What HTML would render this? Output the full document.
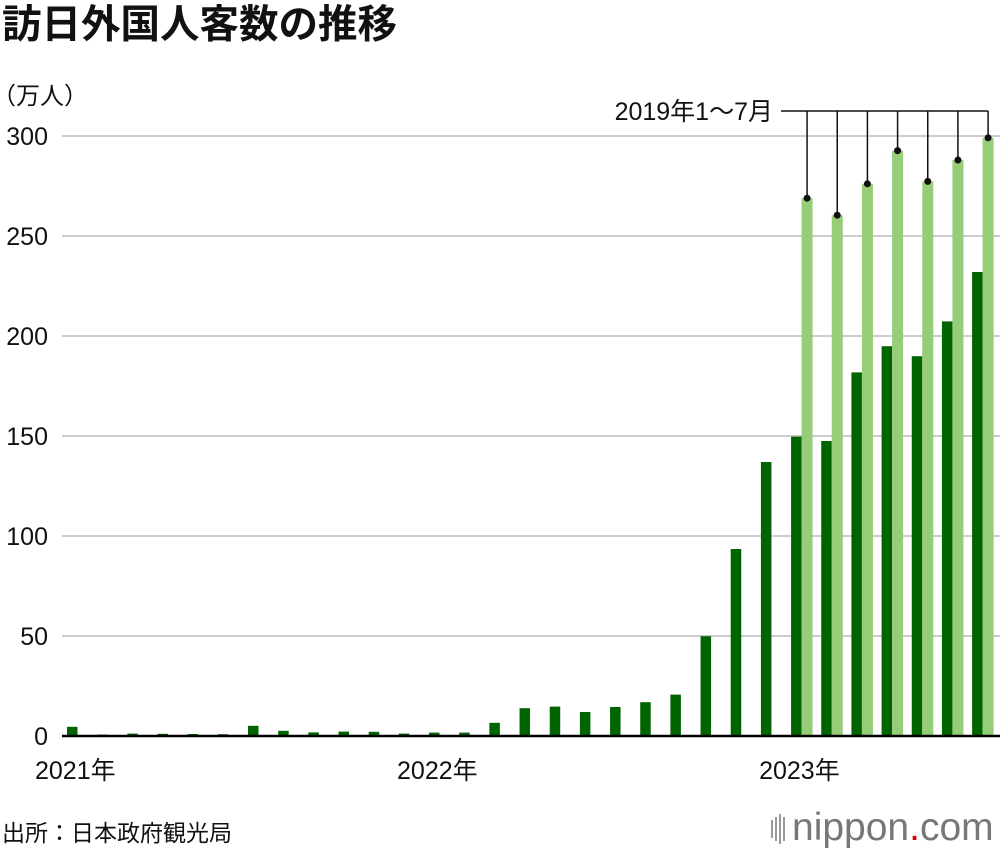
<!DOCTYPE html>
<html><head><meta charset="utf-8">
<style>
body{margin:0;background:#fff;width:1000px;height:850px;overflow:hidden;font-family:"Liberation Sans","Noto Sans CJK JP",sans-serif;}
svg text{font-family:"Liberation Sans","Noto Sans CJK JP",sans-serif;}
</style></head><body>
<svg id="chart" width="1000" height="850">
<text x="2" y="38" font-size="39.5" font-weight="bold" fill="#111">訪日外国人客数の推移</text>
<text x="-8" y="104" font-size="24" fill="#111">（万人）</text>
<text x="2" y="841" font-size="23" fill="#111">出所：日本政府観光局</text>
<g>
<rect x="771" y="820" width="2" height="18" fill="#999"/><rect x="775" y="817" width="2" height="24" fill="#999"/><rect x="779" y="814" width="2" height="30" fill="#999"/><rect x="783" y="817" width="2" height="24" fill="#999"/>
<text x="792" y="840" font-size="39" fill="#777">nippon<tspan fill="#d00">.</tspan>com</text>
</g>
<g id="grid"></g><g id="bars"></g><g id="ann"></g>
</svg>
<script>
const months=31;
const current=[4.6,0.7,1.2,1.1,1.0,0.9,5.1,2.6,1.8,2.2,2.1,1.2,1.7,1.7,6.6,13.9,14.7,12.0,14.5,16.9,20.7,49.9,93.5,137.0,149.7,147.5,181.8,194.9,189.9,207.3,232.0];
const base2019=[268.9,260.4,276.1,292.7,277.3,288.0,299.1];
const yTicks=[0,50,100,150,200,250,300];
const xLabels=[{i:0,t:"2021年"},{i:12,t:"2022年"},{i:24,t:"2023年"}];
const NS="http://www.w3.org/2000/svg";
const y=v=>736-v*2;
const x=i=>67+i*30.17;
function mk(tag,attrs,parent){const e=document.createElementNS(NS,tag);for(const k in attrs)e.setAttribute(k,attrs[k]);document.getElementById(parent).appendChild(e);return e;}
yTicks.forEach(v=>{
 if(v>0){const l=mk('line',{x1:62,x2:1000,y1:y(v),y2:y(v),stroke:'#ccc','stroke-width':2},'grid');
 
 }
 const t=mk('text',{x:48,y:y(v)+9,'font-size':25,'text-anchor':'end',fill:'#111'},'grid');t.textContent=v;
 
 
});
xLabels.forEach(o=>{const t=mk('text',{x:x(o.i)-32,y:779,'font-size':25,fill:'#111'},'grid');t.textContent=o.t;
 
 });
current.forEach((v,i)=>{const r=mk('rect',{x:x(i),y:y(v),width:10.5,height:v*2,fill:'#006400'},'bars');
 
 });
const lx=j=>x(24+j)+10.5;
base2019.forEach((v,j)=>{const r=mk('rect',{x:lx(j),y:y(v),width:11,height:v*2,fill:'#96cd78'},'bars');
 
 
 const cx=lx(j)+5.5;
 const l=mk('line',{x1:cx,x2:cx,y1:111,y2:y(v),stroke:'#111','stroke-width':1.5},'ann');
 
 
 const c=mk('circle',{cx:cx,cy:y(v),r:3.5,fill:'#111'},'ann');
 
 
});
const h=mk('line',{x1:781,x2:lx(6)+5.5,y1:111,y2:111,stroke:'#111','stroke-width':1.5},'ann');


const at=mk('text',{x:773,y:120,'font-size':25,'text-anchor':'end',fill:'#111'},'ann');at.textContent='2019年1～7月';


const ax=mk('line',{x1:62,x2:1000,y1:736,y2:736,stroke:'#000','stroke-width':2.5},'ann');


</script>
</body></html>
